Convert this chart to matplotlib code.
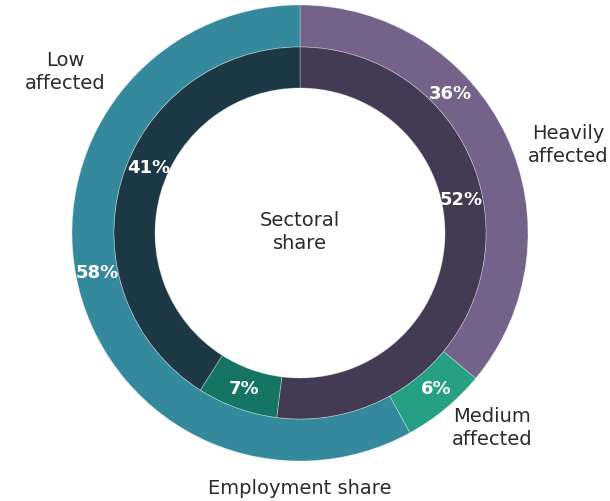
import numpy as np
import matplotlib
matplotlib.use("Agg")
import matplotlib.pyplot as plt

# datos
groups = ["Heavily\naffected", "Medium\naffected", "Low\naffected"]
employment_share = [36, 6, 58]
sectoral_share = [52, 7, 41]

outer_colors = ["#75628a", "#26a085", "#348a9c"]
inner_colors = ["#433a53", "#147565", "#1c3844"]

# desplazamiento de las etiquetas (grados) respecto al centro del sector
outer_shift = [17.8, 1.8, -3.5]
inner_shift = [15.4, 0, -7.3]

plt.rcParams["font.family"] = ["DejaVu Sans"]

fig = plt.figure(figsize=(6.1, 5.02), dpi=100)
ax = fig.add_axes([0, 0, 1, 1])

cx, cy = 300, 268
r_out, w_out = 228, 42
r_in, w_in = 186, 41

wp = dict(edgecolor=(1, 1, 1, 0.35), linewidth=0.6)
ax.pie(employment_share, colors=outer_colors, radius=r_out, center=(cx, cy),
       startangle=90, counterclock=False, wedgeprops=dict(width=w_out, **wp), frame=True)
ax.pie(sectoral_share, colors=inner_colors, radius=r_in, center=(cx, cy),
       startangle=90, counterclock=False, wedgeprops=dict(width=w_in, **wp), frame=True)
ax.set_xlim(0, 610)
ax.set_ylim(0, 502)
ax.set_aspect("equal")
ax.axis("off")


def put_labels(values, shifts, r):
    start = 90
    for v, s in zip(values, shifts):
        span = v / sum(values) * 360
        ang = np.deg2rad(start - span / 2 + s)
        ax.text(cx + r * np.cos(ang), cy + r * np.sin(ang), f"{v}%",
                ha="center", va="center", color="white", fontsize=13, fontweight="bold")
        start -= span


put_labels(employment_share, outer_shift, 206)
put_labels(sectoral_share, inner_shift, 165)

txt = dict(ha="center", va="center", fontsize=14, color="#2b2b2b", linespacing=1.3)
ax.text(cx, cy + 2, "Sectoral\nshare", **txt)
ax.text(300, 502 - 489, "Employment share", **txt)
ax.text(568, 502 - 145, groups[0], **txt)
ax.text(492, 502 - 428, groups[1], **txt)
ax.text(65, 502 - 72, groups[2], **txt)

fig.savefig("out.png", dpi=100)
